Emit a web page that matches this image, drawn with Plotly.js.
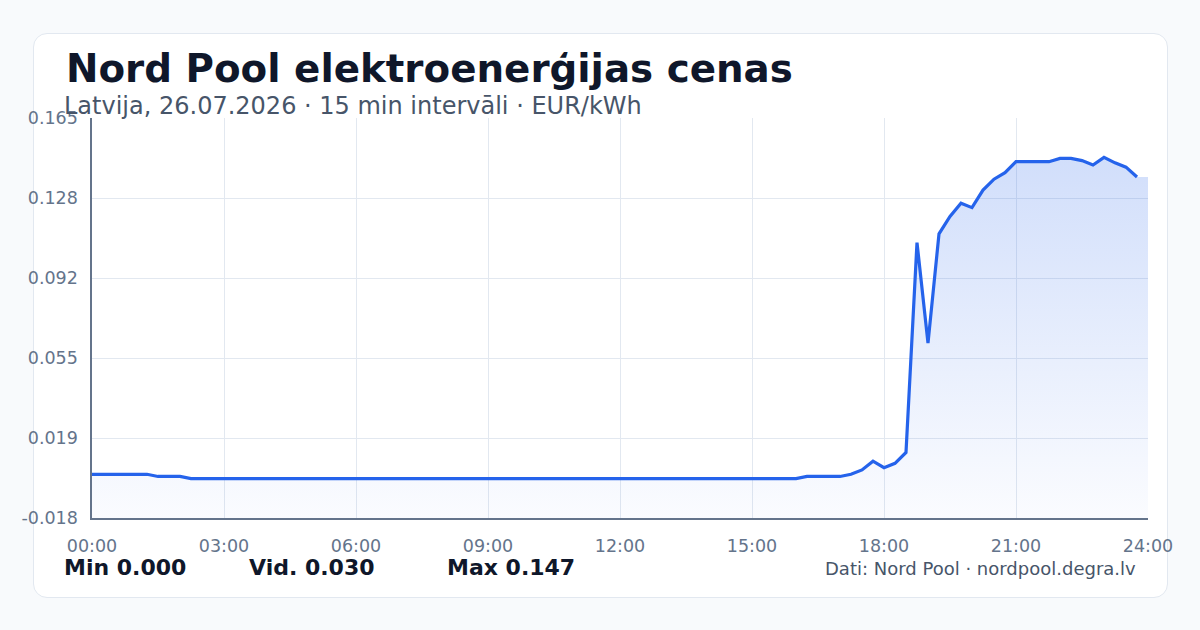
<!DOCTYPE html>
<html>
<head>
<meta charset="utf-8">
<script src="https://cdn.plot.ly/plotly-3.0.1.min.js"></script>
<style>
  html, body { margin: 0; padding: 0; background: #f8fafc; width: 1200px; height: 630px; overflow: hidden; }
  #card { position: absolute; left: 33px; top: 33px; width: 1133px; height: 563px; background: #ffffff;
          border: 1px solid #e2e8f0; border-radius: 14px; }
  #chart { position: absolute; left: 0; top: 0; width: 1200px; height: 630px; }
</style>
</head>
<body>
<div id="card"></div>
<div id="chart"></div>
<script>
// Prices, EUR/kWh, one per 15-minute interval (00:00 ... 23:45)
const prices = [
  0.002, 0.002, 0.002, 0.002, 0.002, 0.002, 0.001, 0.001, 0.001, 0.000, // 00:00-02:15
  0.000, 0.000, 0.000, 0.000, 0.000, 0.000, 0.000, 0.000, 0.000, 0.000, // 02:30-04:45
  0.000, 0.000, 0.000, 0.000, 0.000, 0.000, 0.000, 0.000, 0.000, 0.000, // 05:00-07:15
  0.000, 0.000, 0.000, 0.000, 0.000, 0.000, 0.000, 0.000, 0.000, 0.000, // 07:30-09:45
  0.000, 0.000, 0.000, 0.000, 0.000, 0.000, 0.000, 0.000, 0.000, 0.000, // 10:00-12:15
  0.000, 0.000, 0.000, 0.000, 0.000, 0.000, 0.000, 0.000, 0.000, 0.000, // 12:30-14:45
  0.000, 0.000, 0.000, 0.000, 0.000, 0.001, 0.001, 0.001, 0.001, 0.002, // 15:00-17:15
  0.004, 0.008, 0.005, 0.007, 0.012, 0.108, 0.062, 0.112, 0.120, 0.126, // 17:30-19:45
  0.124, 0.132, 0.137, 0.140, 0.145, 0.145, 0.145, 0.145, 0.1465, 0.1465, // 20:00-22:15
  0.1455, 0.1435, 0.147, 0.1445, 0.1425, 0.138                           // 22:30-23:45
];
const xTickVals = [0, 3, 6, 9, 12, 15, 18, 21, 24];
const xTickText = ["00:00", "03:00", "06:00", "09:00", "12:00", "15:00", "18:00", "21:00", "24:00"];
const yTickVals = [-0.018, 0.0186, 0.0552, 0.0918, 0.1284, 0.165];
const yTickText = ["-0.018", "0.019", "0.055", "0.092", "0.128", "0.165"];
const titleText = "Nord Pool elektroenerģijas cenas";
const subtitleText = "Latvija, 26.07.2026 · 15 min intervāli · EUR/kWh";
const statLabels = ["Min", "Vid.", "Max"];
const sourceText = "Dati: Nord Pool · nordpool.degra.lv";

// time of each 15-min slot in hours
const hours = prices.map((_, i) => i / 4);
const yLo = yTickVals[0], yHi = yTickVals[yTickVals.length - 1];

const minV = Math.min(...prices);
const maxV = Math.max(...prices);
const avgV = prices.reduce((a, b) => a + b, 0) / prices.length;
const statValues = [minV, avgV, maxV];

const base = {
  x: [0, 24], y: [yLo, yLo], mode: 'lines', line: { width: 0, color: 'rgba(0,0,0,0)' },
  hoverinfo: 'skip', showlegend: false
};
const area = {
  x: hours.concat([24]), y: prices.concat([prices[prices.length - 1]]),
  mode: 'lines', line: { width: 0, color: 'rgba(0,0,0,0)' },
  fill: 'tonexty',
  fillcolor: 'rgba(37,99,235,0.1)',
  fillgradient: {
    type: 'vertical', start: yLo, stop: maxV,
    colorscale: [[0, 'rgba(37,99,235,0.02)'], [1, 'rgba(37,99,235,0.21)']]
  },
  hoverinfo: 'skip', showlegend: false
};
const line = {
  x: hours, y: prices, mode: 'lines',
  line: { color: '#2563eb', width: 3.2, shape: 'linear' },
  showlegend: false
};

const L = 92, R = 1148, T = 118, B = 518;
const px = v => (v - L) / (R - L);
const py = v => (B - v) / (B - T);

const statX = [62, 247, 445];
const annotations = [
  { text: '<b>' + titleText + '</b>', x: px(63.5), y: py(68), xref: 'paper', yref: 'paper',
    xanchor: 'left', yanchor: 'middle', showarrow: false,
    font: { family: 'DejaVu Sans', size: 38.8, color: '#0f172a' } },
  { text: subtitleText, x: px(62), y: py(106), xref: 'paper', yref: 'paper',
    xanchor: 'left', yanchor: 'middle', showarrow: false,
    font: { family: 'DejaVu Sans', size: 24, color: '#475569' } },
  { text: sourceText, x: px(1138), y: py(568), xref: 'paper', yref: 'paper',
    xanchor: 'right', yanchor: 'middle', showarrow: false,
    font: { family: 'DejaVu Sans', size: 18, color: '#475569' } }
];
statLabels.forEach((lab, i) => {
  annotations.push({
    text: '<b>' + lab + ' ' + statValues[i].toFixed(3) + '</b>', x: px(statX[i]), y: py(567),
    xref: 'paper', yref: 'paper', xanchor: 'left', yanchor: 'middle', showarrow: false,
    font: { family: 'DejaVu Sans', size: 22, color: '#0f172a' }
  });
});

const layout = {
  width: 1200, height: 630,
  margin: { l: L, r: 1200 - R, t: T, b: 630 - B, pad: 0 },
  paper_bgcolor: 'rgba(0,0,0,0)', plot_bgcolor: 'rgba(0,0,0,0)',
  font: { family: 'DejaVu Sans', color: '#64748b' },
  xaxis: {
    range: [0, 24], tickvals: xTickVals, ticktext: xTickText,
    showline: true, linecolor: '#64748b', linewidth: 1.6,
    showgrid: true, gridcolor: '#e2e8f0', gridwidth: 1, zeroline: false,
    ticks: '', ticklabelstandoff: 11,
    tickfont: { family: 'DejaVu Sans', size: 17.5, color: '#64748b' }, fixedrange: true
  },
  yaxis: {
    range: [yLo, yHi], tickvals: yTickVals, ticktext: yTickText,
    showline: true, linecolor: '#64748b', linewidth: 1.6,
    showgrid: true, gridcolor: '#e2e8f0', gridwidth: 1, zeroline: false,
    ticks: '', ticklabelstandoff: 9,
    tickfont: { family: 'DejaVu Sans', size: 17.5, color: '#64748b' }, fixedrange: true
  },
  annotations: annotations,
  hovermode: false
};

Plotly.newPlot('chart', [base, area, line], layout, { displayModeBar: false, staticPlot: true });
</script>
</body>
</html>
